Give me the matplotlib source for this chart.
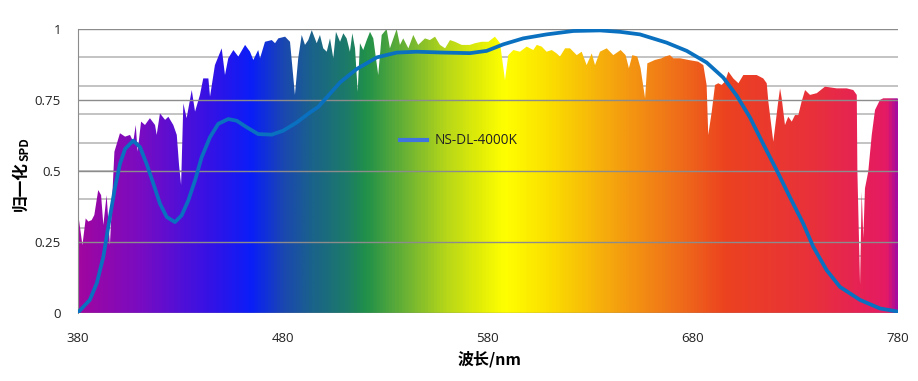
import numpy as np
import matplotlib
matplotlib.use("Agg")
import matplotlib.pyplot as plt
from matplotlib.colors import LinearSegmentedColormap
from matplotlib.patches import Polygon
from matplotlib.lines import Line2D

# solar spectrum (normalised)
sun_wl = [380, 380.4, 382.4, 384.0, 385.3, 386.9, 388.2, 390.1, 391.5, 392.6, 394.2, 395.8, 398.0,
          400.7, 403.2, 405.6, 407.2, 408.4, 409.3, 411.0, 412.9, 415.3, 417.8, 418.6, 420.2,
          422.7, 424.3, 426.7, 428.4, 429.5, 430.5, 431.6, 433.2, 435.7, 437.3, 439.7, 441.3,
          443.8, 444.6, 447.0, 450.3, 451.9, 453.5, 456.0, 458.4, 461.7, 464.1, 465.7, 468.1,
          469.0, 471.4, 474.7, 476.3, 477.9, 481.2, 483.6, 486.0, 487.6, 489.3, 490.9, 492.5,
          494.2, 496.6, 498.2, 499.8, 501.5, 503.1, 504.7, 506.0, 508.0, 509.6, 511.2, 512.0,
          512.8, 514.0, 515.3, 516.6, 517.7, 519.3, 521.0, 522.6, 524.2, 526.6, 528.3, 530.7,
          532.3, 534.0, 535.6, 537.2, 538.8, 541.3, 543.7, 546.1, 549.4, 551.8, 554.3, 556.7,
          559.2, 561.6, 564.0, 567.3, 571.3, 573.8, 577.0, 580.3, 583.5, 586.0, 588.4, 590.0,
          592.5, 595.7, 599.0, 602.2, 603.9, 606.3, 608.7, 611.2, 613.6, 615.2, 617.7, 620.1,
          623.4, 625.8, 628.2, 630.7, 632.3, 634.7, 638.0, 641.2, 644.8, 647.2, 648.8, 650.5,
          652.9, 654.5, 656.7, 657.8, 661.5, 664.8, 666.4, 668.8, 670.5, 673.7, 677.8, 682.6,
          685.1, 686.7, 687.5, 689.2, 690.8, 692.4, 694.0, 695.7, 697.3, 699.7, 702.2, 704.6,
          707.0, 711.1, 714.3, 716.0, 716.8, 719.2, 721.6, 722.5, 723.3, 724.9, 726.5, 728.2,
          729.8, 731.4, 733.0, 734.7, 737.1, 740.4, 744.4, 750.1, 755.0, 758.2, 759.9, 760.2,
          761.5, 762.3, 763.1, 763.9, 765.5, 767.2, 768.8, 771.2, 772.8, 779.4, 780]
sun_spd = [0.34, 0.345, 0.239, 0.333, 0.322, 0.327, 0.345, 0.433, 0.415, 0.31, 0.415, 0.239, 0.568,
           0.633, 0.621, 0.627, 0.603, 0.662, 0.568, 0.674, 0.662, 0.686, 0.662, 0.627, 0.703,
           0.68, 0.691, 0.662, 0.627, 0.521, 0.451, 0.738, 0.686, 0.785, 0.709, 0.768, 0.826,
           0.826, 0.762, 0.873, 0.932, 0.838, 0.897, 0.926, 0.903, 0.944, 0.92, 0.891, 0.926,
           0.897, 0.955, 0.961, 0.95, 0.967, 0.973, 0.955, 0.768, 0.897, 0.979, 0.944, 0.961,
           0.996, 0.95, 0.979, 0.932, 0.92, 0.967, 0.897, 0.99, 0.955, 0.985, 0.967, 0.944,
           0.92, 0.985, 0.932, 0.779, 0.95, 0.926, 0.961, 0.99, 0.967, 0.838, 0.979, 1.0,
           0.932, 0.967, 1.0, 0.944, 0.967, 0.932, 0.979, 0.944, 0.967, 0.961, 0.973, 0.944,
           0.932, 0.961, 0.955, 0.944, 0.944, 0.95, 0.955, 0.955, 0.973, 0.95, 0.82, 0.908,
           0.926, 0.92, 0.938, 0.926, 0.944, 0.938, 0.92, 0.926, 0.914, 0.903, 0.932, 0.932,
           0.908, 0.92, 0.873, 0.914, 0.873, 0.92, 0.932, 0.908, 0.926, 0.908, 0.862, 0.908,
           0.903, 0.862, 0.756, 0.879, 0.891, 0.897, 0.903, 0.908, 0.897, 0.897, 0.891, 0.885,
           0.873, 0.803, 0.627, 0.709, 0.803, 0.809, 0.803, 0.815, 0.85, 0.826, 0.809, 0.838,
           0.838, 0.838, 0.826, 0.809, 0.744, 0.603, 0.744, 0.791, 0.756, 0.662, 0.691, 0.674,
           0.697, 0.697, 0.744, 0.785, 0.768, 0.774, 0.797, 0.791, 0.791, 0.785, 0.768, 0.498,
           0.099, 0.427, 0.263, 0.439, 0.498, 0.627, 0.715, 0.75, 0.756, 0.756, 0.755]

# NS-DL-4000K lamp spectrum
lamp_wl = [380, 386.0, 389.4, 392.6, 395.8, 398.3, 400.7, 403.2, 407.2, 410.5, 413.7, 417.0,
           420.2, 423.5, 427.5, 430.8, 434.0, 437.3, 440.5, 444.6, 448.6, 453.5, 457.6, 462.5,
           468.1, 474.7, 480.3, 486.9, 493.3, 497.4, 501.5, 508.0, 516.1, 525.9, 535.6, 545.4,
           558.3, 571.3, 579.5, 587.6, 597.3, 608.7, 621.7, 634.7, 644.5, 654.2, 667.2, 677.0,
           686.7, 694.8, 701.4, 707.8, 714.3, 720.9, 727.3, 733.8, 738.7, 745.2, 751.7, 761.5,
           771.2, 780]
lamp_spd = [0.0, 0.046, 0.105, 0.198, 0.338, 0.443, 0.525, 0.578, 0.607, 0.584, 0.525, 0.455,
            0.385, 0.338, 0.32, 0.344, 0.396, 0.467, 0.548, 0.619, 0.666, 0.683, 0.677, 0.654,
            0.63, 0.628, 0.642, 0.671, 0.706, 0.726, 0.759, 0.812, 0.859, 0.9, 0.917, 0.92,
            0.917, 0.915, 0.923, 0.946, 0.967, 0.981, 0.993, 0.995, 0.99, 0.981, 0.952, 0.923,
            0.882, 0.829, 0.765, 0.689, 0.595, 0.502, 0.408, 0.315, 0.233, 0.151, 0.092, 0.046,
            0.016, 0.005]

xticks = [380, 480, 580, 680, 780]
yticks = [0, 0.25, 0.5, 0.75, 1]
ytick_labels = ["0", "0.25", "0.5", "0.75", "1"]
legend_label = "NS-DL-4000K"

# rainbow colours along the wavelength axis
stops = [(380, '#a006a0'), (410, '#780cc2'), (444, '#3412e6'), (464, '#0a1ef8'),
         (480, '#1a48b0'), (495, '#1a6488'), (510, '#1c7a6a'), (520, '#20904a'),
         (543, '#78b830'), (560, '#b8d818'), (575, '#e0ec08'), (588, '#ffff00'),
         (609, '#fbe000'), (641, '#f5a50e'), (675, '#ef6a1a'), (696, '#ec4220'),
         (740, '#e8303c'), (775, '#e51a64'), (780, '#a80c9c')]
cmap = LinearSegmentedColormap.from_list(
    "spec", [((w - 380) / 400.0, c) for w, c in stops])

fig = plt.figure(figsize=(9.18, 3.81), dpi=100)
ax = fig.add_axes([77.5 / 918, 68 / 381, 820.5 / 918, 284 / 381])

# faint 0.1 lines behind the spectrum
for yv in np.arange(0.1, 1.0, 0.1):
    ax.axhline(yv, color='#bebebe', lw=1.3, zorder=0.5)

grad = np.linspace(0, 1, 800).reshape(1, -1)
im = ax.imshow(grad, cmap=cmap, extent=[380, 780, 0, 1], aspect='auto',
               interpolation='bilinear', zorder=1)
verts = [(380, 0)] + list(zip(sun_wl, sun_spd)) + [(780, 0)]
poly = Polygon(verts, closed=True, facecolor='none', edgecolor='none')
ax.add_patch(poly)
im.set_clip_path(poly)

# main grid over the spectrum
for yv in yticks:
    ax.axhline(yv, color='#8c8c8c', lw=1.0, zorder=2)

ax.plot(lamp_wl, lamp_spd, color='#0a70c0', lw=2.7, zorder=3, solid_capstyle='round')

ax.set_xlim(380, 780)
ax.set_ylim(0, 1)
ax.set_xticks(xticks)
ax.set_xticklabels([str(t) for t in xticks], fontsize=9.5, family='Open Sans', color='#222222')
ax.set_yticks(yticks)
ax.set_yticklabels(ytick_labels, fontsize=9.5, family='Open Sans', color='#222222')
ax.tick_params(axis='x', length=0, pad=14)
ax.tick_params(axis='y', length=0, pad=12)
for s in ['top', 'right', 'bottom']:
    ax.spines[s].set_visible(False)
ax.spines['left'].set_color('#8c8c8c')
ax.spines['left'].set_zorder(2)

h = Line2D([], [], color='#3f74e0', lw=3)
leg = ax.legend(handles=[h], labels=[legend_label], loc='center left',
                bbox_to_anchor=((400 - 77.5) / 820.5, (313 - 141) / 284),
                frameon=False, borderpad=0, borderaxespad=0, handlelength=2.0,
                handletextpad=0.55, prop={'family': 'Open Sans', 'size': 9.8})
for t in leg.get_texts():
    t.set_color('#222222')

cjk = ['Noto Sans CJK SC', 'DejaVu Sans']
fig.text(490 / 918, 1 - 359 / 381, "波长/nm", ha='center', va='center',
         fontsize=11.5, fontweight='bold', family=cjk)
fig.text(21 / 918, 1 - 211 / 381, "归一化", rotation=90, ha='center', va='bottom',
         fontsize=12, fontweight='bold', family=cjk)
fig.text(24.5 / 918, 1 - 161 / 381, "SPD", rotation=90, ha='center', va='bottom',
         fontsize=8.5, fontweight='bold', family=cjk)

fig.savefig("out.png", dpi=100)
